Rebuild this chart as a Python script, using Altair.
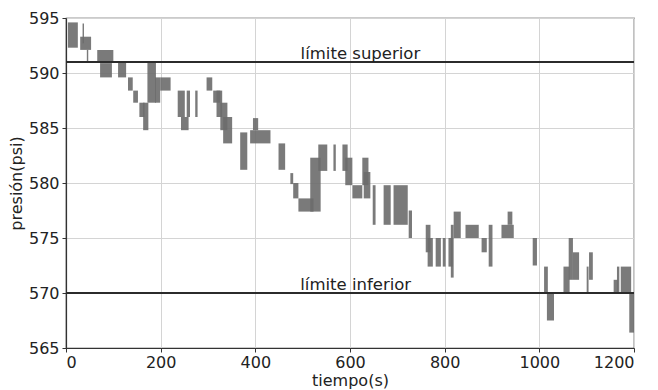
import altair as alt
import pandas as pd

# Pressure record: each block = time span (s) and pressure range (psi) swept in it
t_start = [4, 30, 35, 44, 66, 72, 110, 131, 142, 155, 163, 172, 188, 199, 236, 243, 255, 273,
           297, 311, 318, 326, 332, 368, 389, 395, 449, 474, 480, 491, 516, 533, 565, 584,
           590, 605, 626, 629, 648, 671, 692, 724, 760, 764, 781, 796, 808, 813, 819, 844,
           878, 893, 920, 933, 986, 1010, 1016, 1051, 1062, 1071, 1100, 1105, 1157, 1164,
           1172, 1190]
t_end = [25, 53, 38, 47, 100, 97, 127, 141, 152, 166, 174, 190, 199, 221, 251, 259, 262, 278,
         309, 326, 330, 341, 351, 383, 432, 406, 463, 480, 491, 523, 538, 552, 570, 595,
         605, 626, 639, 643, 654, 686, 722, 731, 770, 775, 792, 802, 817, 819, 834, 872,
         889, 901, 946, 943, 995, 1018, 1031, 1064, 1071, 1084, 1104, 1113, 1166, 1169,
         1194, 1200]
p_low = [592.3, 592.1, 592.7, 591.0, 590.9, 589.6, 589.6, 588.4, 587.3, 586.0, 584.8, 587.3,
         587.3, 588.4, 586.0, 584.8, 586.0, 586.0, 588.4, 587.3, 586.0, 584.8, 583.6, 581.2,
         583.6, 584.8, 581.2, 579.9, 578.6, 577.4, 577.4, 581.1, 581.1, 581.1, 579.8, 578.6,
         579.8, 578.6, 576.2, 576.2, 576.2, 575.0, 573.7, 572.4, 572.4, 572.4, 572.4, 571.4,
         575.0, 575.0, 573.7, 572.4, 575.0, 576.2, 572.5, 570.0, 567.5, 570.0, 571.2, 571.2,
         570.0, 571.2, 570.0, 570.0, 570.0, 566.4]
p_high = [594.6, 593.3, 594.5, 592.1, 592.1, 590.9, 591.0, 589.6, 588.4, 587.3, 587.3, 591.0,
          589.6, 589.6, 588.4, 586.0, 588.4, 588.4, 589.6, 588.4, 588.4, 587.3, 586.0, 584.6,
          584.8, 585.9, 583.6, 580.9, 580.0, 578.6, 582.3, 583.5, 583.5, 583.5, 582.3, 579.8,
          582.3, 581.0, 579.8, 579.8, 579.8, 577.5, 576.2, 575.0, 575.0, 575.0, 575.0, 576.2,
          577.4, 576.2, 575.0, 576.2, 576.2, 577.4, 575.0, 572.4, 570.0, 572.4, 575.0, 573.7,
          572.4, 573.7, 571.2, 572.4, 572.4, 570.0]

limit_values = [591, 570]
limit_labels = ["límite superior", "límite inferior"]
label_time = [622, 612]

x_ticks = [0, 200, 400, 600, 800, 1000, 1200]
y_ticks = [565, 570, 575, 580, 585, 590, 595]

data = pd.DataFrame({"t0": t_start, "t1": t_end, "lo": p_low, "hi": p_high})
limits = pd.DataFrame({"p": limit_values, "label": limit_labels, "tx": label_time})

FONT = "DejaVu Sans"
xs = alt.Scale(domain=[0, 1200], nice=False)
ys = alt.Scale(domain=[565, 595], nice=False)

blocks = alt.Chart(data).mark_rect(color="#6b6b6b", opacity=0.9).encode(
    x=alt.X("t0:Q", scale=xs, title="tiempo(s)",
            axis=alt.Axis(values=x_ticks, format="d")),
    x2="t1:Q",
    y=alt.Y("lo:Q", scale=ys, title="presión(psi)",
            axis=alt.Axis(values=y_ticks, format="d")),
    y2="hi:Q",
)

rules = alt.Chart(limits).mark_rule(color="#2b2b2b", strokeWidth=2).encode(
    y=alt.Y("p:Q", scale=ys)
)

texts = alt.Chart(limits).mark_text(
    font=FONT, fontSize=16.5, color="#222222", baseline="alphabetic", align="center", dy=-3
).encode(
    x=alt.X("tx:Q", scale=xs),
    y=alt.Y("p:Q", scale=ys),
    text="label:N",
)

chart = alt.layer(blocks, rules, texts).properties(
    width=568, height=330,
    autosize=alt.AutoSizeParams(type="none"),
    padding={"left": 58, "top": 10, "right": 8, "bottom": 42},
).configure_view(
    stroke="#333333", strokeWidth=1.2
).configure_axis(
    labelFont=FONT, titleFont=FONT, labelFontSize=16, titleFontSize=16,
    labelColor="#222222", titleColor="#222222", titleFontWeight="normal",
    gridColor="#d4d4d4", gridWidth=1, domainColor="#333333", domainWidth=1.2,
    tickColor="#333333", tickSize=4,
).configure_axisX(
    labelPadding=2, titlePadding=2
).configure_axisY(
    labelPadding=3, titlePadding=4
)

chart.save("out.html", embed_options={"renderer": "svg", "actions": False})
